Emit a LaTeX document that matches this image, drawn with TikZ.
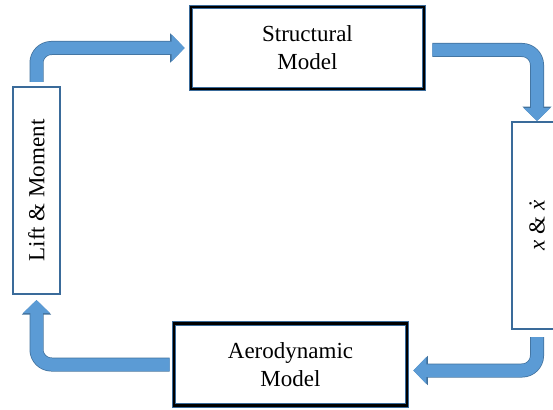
\documentclass[tikz,border=0pt]{standalone}
\usepackage{fontspec}
\setmainfont{Liberation Serif}
\usetikzlibrary{arrows.meta}
\definecolor{arrowblue}{HTML}{5B9BD5}
\definecolor{arrowedge}{HTML}{41719C}
\definecolor{boxblue}{HTML}{3A6B9A}

\tikzset{
  modelbox/.style={draw=black, line width=2.6pt, minimum width=233pt, minimum height=82pt,
    align=center, font=\fontsize{23}{28}\selectfont, preaction={draw=boxblue, line width=4.2pt}},
  sidebox/.style={draw=boxblue, line width=2pt, minimum width=47pt, minimum height=207pt,
    font=\fontsize{23}{28}\selectfont},
  flow/.style={line width=12.5pt, draw=arrowblue, rounded corners=15pt,
    -{Triangle[width=26pt,length=13pt]},
    preaction={draw=arrowedge, line width=14pt, -{Triangle[width=28.5pt,length=14.5pt]}}},
}

\begin{document}
\begin{tikzpicture}[x=1pt,y=-1pt]
\useasboundingbox (0,0) rectangle (553,409);
\clip (0,0) rectangle (553,409);

\node[modelbox] (struct) at (307.5,48) {Structural\\Model};
\node[modelbox] (aero) at (290.5,364.5) {Aerodynamic\\Model};
\node[sidebox] (lift) at (36.5,190.5) {\rotatebox{90}{Lift \& Moment}};
\node[sidebox, minimum width=50pt] (xbox) at (537,225.5) {\rotatebox{90}{\textit{x} \& \textit{\.x}}};

\draw[flow, shorten <=4pt, shorten >=5pt] (lift.north) |- (struct.west);
\draw[flow, shorten <=7pt] ([yshift=-2pt]struct.east) -| (xbox.north);
\draw[flow, shorten <=7pt, shorten >=5pt] (xbox.south) |- ([yshift=-6pt]aero.east);
\draw[flow, shorten <=3pt, shorten >=5pt] (aero.west) -| (lift.south);
\end{tikzpicture}
\end{document}
